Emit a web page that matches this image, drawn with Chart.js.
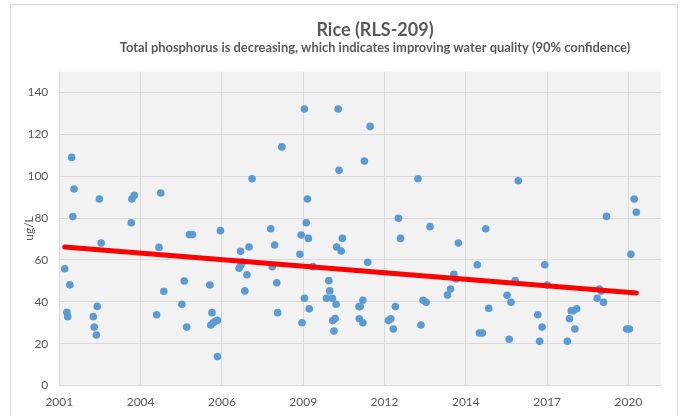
<!DOCTYPE html>
<html>
<head>
<meta charset="utf-8">
<script src="https://cdn.jsdelivr.net/npm/chart.js@4/dist/chart.umd.min.js"></script>
<style>
  html, body { margin: 0; padding: 0; background: #ffffff; }
  #wrap { width: 680px; height: 416px; position: relative; }
</style>
</head>
<body>
<div id="wrap"><canvas id="c" width="680" height="416"></canvas></div>
<script>
// ---- Data ----
const TITLE = 'Rice (RLS-209)';
const SUBTITLE = 'Total phosphorus is decreasing, which indicates improving water quality (90% confidence)';
const Y_TITLE = 'ug/L';

// sample dates as decimal years
const SAMPLE_YEARS = [
  2001.48, 2001.55, 2001.58, 2001.65, 2001.71, 2001.75, 2001.79,
  2002.43, 2002.46, 2002.53, 2002.56, 2002.63, 2002.69,
  2003.69, 2003.71, 2003.79,
  2004.53, 2004.61, 2004.67, 2004.77,
  2005.37, 2005.45, 2005.53, 2005.62, 2005.72,
  2006.30, 2006.33, 2006.37, 2006.41, 2006.47, 2006.55, 2006.55, 2006.65,
  2007.27, 2007.32, 2007.33, 2007.38, 2007.46, 2007.53, 2007.60, 2007.70,
  2008.32, 2008.37, 2008.45, 2008.52, 2008.55, 2008.69,
  2009.29, 2009.33, 2009.36, 2009.44, 2009.44, 2009.50, 2009.54, 2009.57, 2009.60, 2009.72,
  2010.17, 2010.25, 2010.28, 2010.37, 2010.38, 2010.42, 2010.46, 2010.49, 2010.51, 2010.56, 2010.59, 2010.66, 2010.70,
  2011.25, 2011.26, 2011.29, 2011.38, 2011.38, 2011.43, 2011.54, 2011.62,
  2012.23, 2012.31, 2012.39, 2012.46, 2012.56, 2012.63,
  2013.21, 2013.31, 2013.38, 2013.48, 2013.61,
  2014.19, 2014.29, 2014.40, 2014.47, 2014.55,
  2015.18, 2015.25, 2015.35, 2015.46, 2015.56,
  2016.17, 2016.24, 2016.30, 2016.44, 2016.54,
  2017.19, 2017.25, 2017.33, 2017.42, 2017.50,
  2018.17, 2018.24, 2018.30, 2018.37, 2018.42, 2018.48,
  2019.16, 2019.23, 2019.30, 2019.37, 2019.47,
  2020.14, 2020.23, 2020.28, 2020.39, 2020.46
];
// total phosphorus, ug/L
const PHOSPHORUS = [
  55.8, 35.0, 32.9, 48.1, 109.0, 80.7, 93.9,
  32.9, 27.9, 24.1, 37.8, 89.1, 68.1,
  77.8, 89.1, 90.9,
  33.8, 66.0, 92.0, 45.0,
  38.8, 49.9, 27.9, 72.1, 72.1,
  48.0, 28.9, 34.8, 30.0, 30.6, 31.2, 13.8, 74.0,
  56.0, 64.1, 57.5, 59.0, 45.2, 52.9, 66.2, 98.8,
  74.9, 56.8, 67.1, 49.1, 34.8, 114.0,
  62.7, 71.9, 30.0, 132.1, 41.7, 77.8, 89.1, 70.3, 36.7, 56.8,
  41.7, 50.1, 45.2, 41.7, 31.0, 26.0, 32.0, 38.8, 66.2, 132.1, 102.8, 64.3, 70.3,
  37.7, 31.9, 37.7, 30.0, 40.7, 107.3, 58.9, 123.8,
  31.0, 31.9, 27.0, 37.7, 79.9, 70.3,
  98.8, 28.9, 40.7, 39.8, 75.9,
  43.2, 46.1, 53.1, 50.9, 68.1,
  57.7, 25.1, 25.1, 74.9, 36.9,
  43.1, 22.1, 39.8, 50.1, 97.8,
  33.8, 21.1, 27.9, 57.7, 48.0,
  21.1, 31.9, 35.7, 35.7, 27.0, 36.7,
  41.7, 46.1, 45.0, 39.8, 80.8,
  27.0, 27.0, 62.7, 89.1, 82.8
];
// linear trend line end points
const TREND_YEARS = [2001.48, 2020.46];
const TREND_VALUES = [66.2, 44.2];

// axes
const X_MIN = 2001.3, X_MAX = 2021.28;
const X_TICK_POS = [2001.3, 2004.0, 2006.7, 2009.4, 2012.1, 2014.8, 2017.5, 2020.2];
const X_TICK_LABELS = ['2001', '2004', '2006', '2009', '2012', '2014', '2017', '2020'];
const Y_MIN = 0, Y_MAX = 150;
const Y_TICKS = [0, 20, 40, 60, 80, 100, 120, 140];

// ---- Chart ----
const TEXT = '#595959';
const GRID = '#d9d9d9';
const FONT = 'Lato, "Liberation Sans", sans-serif';

const scatterPts = SAMPLE_YEARS.map((x, i) => ({ x, y: PHOSPHORUS[i] }));
const trendPts = TREND_YEARS.map((x, i) => ({ x, y: TREND_VALUES[i] }));

const framePlugin = {
  id: 'frame',
  beforeDraw(chart) {
    const ctx = chart.ctx, a = chart.chartArea;
    ctx.save();
    ctx.fillStyle = '#ffffff';
    ctx.fillRect(0, 0, chart.width, chart.height);
    ctx.strokeStyle = GRID;
    ctx.lineWidth = 1;
    ctx.strokeRect(10.5, 4.5, 667, 430);
    ctx.fillStyle = '#f2f2f2';
    ctx.fillRect(a.left, a.top, a.right - a.left, a.bottom - a.top);
    ctx.restore();
  },
  afterLayout(chart) {
    // centre title / subtitle like the reference
    chart.boxes.forEach(b => {
      if (b.options && (b.options.text === TITLE || b.options.text === SUBTITLE)) {
        b.left = 70; b.right = 680;
      }
    });
  }
};

new Chart(document.getElementById('c'), {
  type: 'scatter',
  data: {
    datasets: [
      {
        type: 'line',
        label: 'Trend',
        data: trendPts,
        borderColor: '#ff0000',
        borderWidth: 5,
        borderCapStyle: 'round',
        pointRadius: 0,
        fill: false,
        order: 0
      },
      {
        type: 'scatter',
        label: 'Total phosphorus',
        data: scatterPts,
        backgroundColor: '#5b9bd5',
        borderWidth: 0,
        pointRadius: 3.8,
        order: 1
      }
    ]
  },
  options: {
    responsive: false,
    animation: false,
    devicePixelRatio: 1,
    layout: { padding: { left: 0, right: 19, top: 0, bottom: 0 } },
    plugins: {
      legend: { display: false },
      tooltip: { enabled: false },
      title: {
        display: true,
        text: TITLE,
        color: TEXT,
        font: { family: FONT, size: 18, weight: 'bold', lineHeight: 1.2 },
        padding: { top: 19, bottom: 0 }
      },
      subtitle: {
        display: true,
        text: SUBTITLE,
        color: TEXT,
        font: { family: FONT, size: 12.9, weight: 'bold', lineHeight: 1.2 },
        padding: { top: 0, bottom: 15.5 }
      }
    },
    scales: {
      x: {
        type: 'linear',
        min: X_MIN,
        max: X_MAX,
        afterBuildTicks(s) { s.ticks = X_TICK_POS.map(v => ({ value: v })); },
        afterFit(s) { s.height = 30.5; },
        ticks: {
          color: TEXT,
          font: { family: FONT, size: 12 },
          padding: 9,
          maxRotation: 0,
          autoSkip: false,
          callback(v, i) { return X_TICK_LABELS[i]; }
        },
        grid: { color: GRID, drawTicks: false },
        border: { color: GRID }
      },
      y: {
        min: Y_MIN,
        max: Y_MAX,
        afterBuildTicks(s) { s.ticks = Y_TICKS.map(v => ({ value: v })); },
        afterFit(s) { s.width = 59.3; },
        ticks: {
          color: TEXT,
          font: { family: FONT, size: 12 },
          padding: 11,
          autoSkip: false
        },
        grid: { color: GRID, drawTicks: false },
        border: { display: false },
        title: {
          display: true,
          text: Y_TITLE,
          color: TEXT,
          font: { family: FONT, size: 12 },
          padding: { top: 22, bottom: 0 }
        }
      }
    }
  },
  plugins: [framePlugin]
});
</script>
</body>
</html>
